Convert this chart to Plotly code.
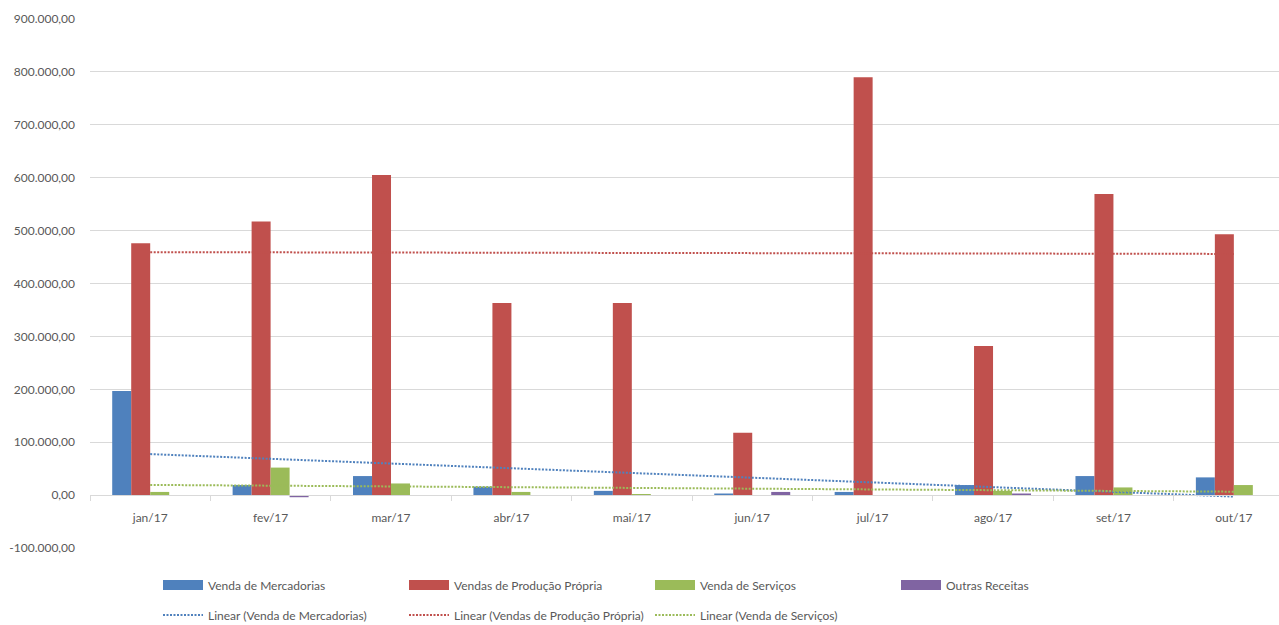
import numpy as np
import plotly.graph_objects as go

# Monthly revenue by source (R$)
months = ["jan/17", "fev/17", "mar/17", "abr/17", "mai/17",
          "jun/17", "jul/17", "ago/17", "set/17", "out/17"]
venda_mercadorias = [197000, 19000, 36000, 16000, 8000, 3000, 6000, 19000, 36000, 33500]
vendas_producao = [476000, 517000, 605000, 363000, 363000, 118000, 790000, 282000, 569000, 493000]
venda_servicos = [6000, 52000, 22000, 6000, 1000, 0, 0, 8000, 14500, 19000]
outras_receitas = [0, -4000, 0, 0, 0, 6000, 0, 3000, 0, 0]

y_ticks = [-100000, 0, 100000, 200000, 300000, 400000, 500000, 600000, 700000, 800000, 900000]

BLUE, RED, GREEN, PURPLE = "#4F81BD", "#C0504D", "#9BBB59", "#8064A2"
GRID = "#d9d9d9"
TEXT = "#595959"
FONT = "Lato, Roboto, sans-serif"


def br_number(v):
    s = f"{v:,.2f}"
    return s.replace(",", "#").replace(".", ",").replace("#", ".")


def linear_trend(values):
    idx = np.arange(len(values))
    slope, intercept = np.polyfit(idx, values, 1)
    return (slope * idx + intercept).tolist()


bar_series = [
    ("Venda de Mercadorias", venda_mercadorias, BLUE),
    ("Vendas de Produção Própria", vendas_producao, RED),
    ("Venda de Serviços", venda_servicos, GREEN),
    ("Outras Receitas", outras_receitas, PURPLE),
]
trend_series = [
    ("Linear (Venda de Mercadorias)", venda_mercadorias, BLUE),
    ("Linear (Vendas de Produção Própria)", vendas_producao, RED),
    ("Linear (Venda de Serviços)", venda_servicos, GREEN),
]

fig = go.Figure()

for name, vals, color in bar_series:
    fig.add_trace(go.Bar(x=months, y=vals, name=name, marker_color=color,
                         marker_line_width=0, showlegend=False))

for name, vals, color in trend_series:
    fig.add_trace(go.Scatter(x=months, y=linear_trend(vals), mode="lines",
                             line=dict(color=color, width=2, dash="2px,1.5px"),
                             name=name, legend="legend2"))

# wide colour swatches for the bar legend row
for name, vals, color in bar_series:
    fig.add_trace(go.Scatter(x=[None], y=[None], mode="lines",
                             line=dict(color=color, width=10), name=name,
                             legend="legend"))

legend_common = dict(
    orientation="h", xref="container", yref="container",
    x=158 / 1279, xanchor="left", yanchor="middle",
    font=dict(family=FONT, size=12, color=TEXT),
    bgcolor="rgba(0,0,0,0)", borderwidth=0,
    entrywidth=191, entrywidthmode="pixels", itemwidth=40,
    itemclick=False, itemdoubleclick=False,
)

fig.update_layout(
    width=1279, height=625,
    margin=dict(l=90, r=0, t=19, b=77, autoexpand=False),
    paper_bgcolor="white", plot_bgcolor="white",
    barmode="group", bargap=0.369, bargroupgap=0,
    font=dict(family=FONT, size=12, color=TEXT),
    legend=dict(legend_common, y=1 - 585 / 625),
    legend2=dict(legend_common, y=1 - 615 / 625),
    xaxis=dict(
        type="category", range=[-0.5, 9.375],
        anchor="free", position=0.1,
        showline=True, linecolor=GRID, linewidth=1,
        ticks="outside", tickson="boundaries", ticklen=5, tickcolor=GRID,
        showgrid=False, ticklabelstandoff=11,
        tickfont=dict(family=FONT, size=12, color=TEXT),
    ),
    yaxis=dict(
        range=[-100000, 900000], tickvals=y_ticks,
        ticktext=[br_number(v) for v in y_ticks],
        showgrid=True, gridcolor=GRID, gridwidth=1,
        zeroline=False, showline=False, ticks="",
        ticklabelstandoff=14,
        tickfont=dict(family=FONT, size=12, color=TEXT),
    ),
)

fig.write_html("out.html")
